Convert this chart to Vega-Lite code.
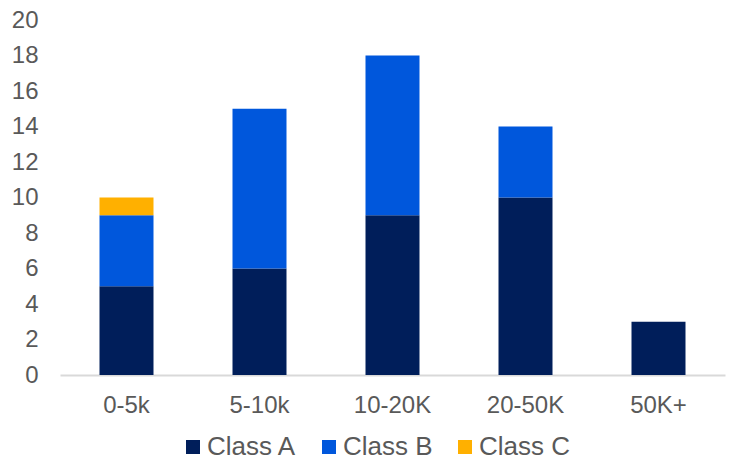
{
  "$schema": "https://vega.github.io/schema/vega-lite/v6.json",
  "width": 665,
  "height": 355,
  "autosize": {"type": "none"},
  "padding": {"left": 60, "top": 20, "right": 7, "bottom": 86},
  "background": "white",
  "config": {
    "view": {"stroke": null},
    "font": "Liberation Sans",
    "axis": {"labelFont": "Liberation Sans", "labelFontSize": 24, "labelColor": "#595959", "grid": false, "ticks": false, "title": null},
    "legend": {"labelFont": "Liberation Sans", "labelFontSize": 26, "labelColor": "#595959"}
  },
  "data": {
    "values": [
      {"range": "0-5k", "cls": "Class A", "value": 5},
      {"range": "0-5k", "cls": "Class B", "value": 4},
      {"range": "0-5k", "cls": "Class C", "value": 1},
      {"range": "5-10k", "cls": "Class A", "value": 6},
      {"range": "5-10k", "cls": "Class B", "value": 9},
      {"range": "10-20K", "cls": "Class A", "value": 9},
      {"range": "10-20K", "cls": "Class B", "value": 9},
      {"range": "20-50K", "cls": "Class A", "value": 10},
      {"range": "20-50K", "cls": "Class B", "value": 4},
      {"range": "50K+", "cls": "Class A", "value": 3}
    ]
  },
  "mark": {"type": "bar"},
  "encoding": {
    "x": {
      "field": "range", "type": "nominal",
      "sort": ["0-5k", "5-10k", "10-20K", "20-50K", "50K+"],
      "scale": {"paddingInner": 0.594, "paddingOuter": 0.297},
      "axis": {"labelAngle": 0, "domainColor": "#D9D9D9", "domainWidth": 2, "labelPadding": 18}
    },
    "y": {
      "field": "value", "type": "quantitative", "stack": "zero",
      "scale": {"domain": [0, 20], "nice": false},
      "axis": {"values": [0, 2, 4, 6, 8, 10, 12, 14, 16, 18, 20], "domain": false, "labelPadding": 22}
    },
    "color": {
      "field": "cls", "type": "nominal",
      "scale": {"domain": ["Class A", "Class B", "Class C"], "range": ["#001E5A", "#0057DC", "#FFB000"]},
      "legend": {
        "title": null, "orient": "none", "direction": "horizontal",
        "legendX": 120, "legendY": 414,
        "symbolType": "square", "symbolSize": 196, "symbolStrokeWidth": 0,
        "labelOffset": 1, "columnPadding": 19, "padding": 0
      }
    },
    "order": {"field": "cls", "sort": "ascending"}
  }
}
